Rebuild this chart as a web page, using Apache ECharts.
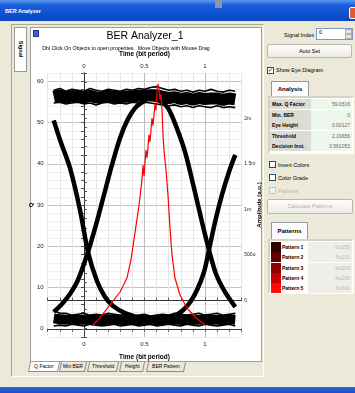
<!DOCTYPE html>
<html>
<head>
<meta charset="utf-8">
<script src="https://cdn.jsdelivr.net/npm/echarts@6.0.0/dist/echarts.min.js"></script>
<style>
html, body { margin: 0; padding: 0; }
body { width: 355px; height: 393px; overflow: hidden; background: #ece9d8; position: relative;
  font-family: "Liberation Sans Narrow", "Liberation Sans", sans-serif; font-size: 5.5px; color: #000; }
.a { position: absolute; box-sizing: border-box; }
#bar { left: 0; top: 0; width: 355px; height: 21px; background: linear-gradient(#5d98f2, #1a5fdc 25%, #0b4ecb 75%, #0a47ba); }
#bar span { position: absolute; left: 5px; top: 8px; color: #fff; font-weight: bold; font-size: 5.5px; }
#close { left: 349px; top: 7px; width: 8px; height: 12px; background: #e25b2f; border: 1px solid #fff; border-radius: 2px; }
#knob { left: 215px; top: 0; width: 7px; height: 8px; background: #8c96a8; }
#taskbar { left: 0; top: 387px; width: 355px; height: 6px; background: linear-gradient(#3168d5, #1d4fc0); }
#frame { left: 11px; top: 24px; width: 253px; height: 353px; border: 1px solid #aca899; border-right-color: #fff; border-bottom-color: #fff; }
#sig { left: 14px; top: 27px; width: 13px; height: 45px; background: #fff; border: 1px solid #919b9c; }
#sig span { position: absolute; left: -12px; top: 18px; width: 36px; text-align: center; transform: rotate(90deg); font-weight: bold; font-size: 5.5px; }
#white { left: 30px; top: 27px; width: 232px; height: 335px; background: #fff; border: 1px solid #a0a0a0; }
#icon { left: 33px; top: 30px; width: 6px; height: 7px; background: #3a63c8; border: 1px solid #1b3b8a; }
.tab { top: 362px; height: 10px; border: 1px solid #8d8d8d; border-top: none; background: #ece9d8; font-size: 5px; text-align: center; line-height: 9px; transform: skewX(-12deg); }
.tab.on { background: #fff; }
.tab span { display: inline-block; transform: skewX(12deg); }
.btn { background: linear-gradient(#fdfdfb, #ecebe6); border: 1px solid #b9b8ae; border-radius: 2px; text-align: center; font-size: 5.5px; }
.chk { width: 7px; height: 7px; background: #fff; border: 1px solid #1c5180; font-size: 6px; line-height: 5px; text-align: center; }
.lbl { font-size: 5.5px; }
.ptab { background: #fcfcfe; border: 1px solid #919b9c; border-bottom: none; font-weight: bold; font-size: 6px; text-align: center; }
.panel { border: 2px solid #d6d3c5; border-right-color: #fff; border-bottom-color: #fff; background: #fff; }
.row { position: absolute; left: 0; width: 100%; height: 10px; border-bottom: 1px solid #fff; }
.k { position: absolute; left: 0; top: 0; width: 41px; height: 10px; background: #dcdcd6; font-weight: bold; font-size: 5px; line-height: 10px; padding-left: 2px; }
.v { position: absolute; left: 41px; right: 0; top: 0; height: 10px; background: #eef7ec; color: #666; font-size: 5px; line-height: 10px; text-align: right; padding-right: 2px; }
.sw { position: absolute; left: 1px; top: 0; width: 10px; height: 10px; }
.pk { position: absolute; left: 12px; top: 0; width: 26px; height: 10px; background: #fff; font-weight: bold; font-size: 5px; line-height: 10px; }
.pv { position: absolute; left: 38px; right: 0; top: 0; height: 10px; background: #efeee8; color: #bbb; font-size: 5px; line-height: 10px; text-align: right; padding-right: 2px; }
#chart { position: absolute; left: 0; top: 0; width: 355px; height: 393px; z-index: 5; }
</style>
</head>
<body>
<div class="a" id="bar"><span>BER Analyzer</span></div>
<div class="a" id="knob"></div>
<div class="a" id="close"></div>
<div class="a" id="frame"></div>
<div class="a" id="sig"><span>Signal</span></div>
<div class="a" id="white"></div>
<div class="a" id="icon"></div>
<div class="a tab on" style="left:29px;width:30px"><span>Q Factor</span></div>
<div class="a tab" style="left:60px;width:26px"><span>Min BER</span></div>
<div class="a tab" style="left:88px;width:30px"><span>Threshold</span></div>
<div class="a tab" style="left:120px;width:24px"><span>Height</span></div>
<div class="a tab" style="left:147px;width:38px"><span>BER Pattern</span></div>

<div class="a lbl" style="left:284px;top:32px">Signal Index</div>
<div class="a" style="left:316px;top:28px;width:37px;height:12px;background:#fff;border:1px solid #7f9db9;font-size:5.5px;padding-left:2px;line-height:7px">0
  <div class="a" style="left:28px;top:0;width:7px;height:5px;background:#e8e6dc;border:1px solid #b0b0a8"></div>
  <div class="a" style="left:28px;top:5px;width:7px;height:5px;background:#e8e6dc;border:1px solid #b0b0a8"></div>
</div>
<div class="a btn" style="left:267px;top:44px;width:85px;height:14px;line-height:12px">Auto Set</div>
<div class="a chk" style="left:267px;top:67px">✓</div>
<div class="a lbl" style="left:276px;top:67px">Show Eye Diagram</div>
<div class="a ptab" style="left:271px;top:81px;width:38px;height:15px;line-height:14px">Analysis</div>
<div class="a panel" style="left:268px;top:96px;width:86px;height:58px">
  <div class="row" style="top:1px"><div class="k">Max. Q Factor</div><div class="v">59.0516</div></div>
  <div class="row" style="top:11.5px"><div class="k">Min. BER</div><div class="v">0</div></div>
  <div class="row" style="top:22px"><div class="k">Eye Height</div><div class="v">0.00127</div></div>
  <div class="row" style="top:32.5px"><div class="k">Threshold</div><div class="v">2.19656</div></div>
  <div class="row" style="top:43px"><div class="k">Decision Inst.</div><div class="v">0.561053</div></div>
</div>
<div class="a chk" style="left:269px;top:161px"></div>
<div class="a lbl" style="left:278px;top:162px">Invert Colors</div>
<div class="a chk" style="left:269px;top:174px"></div>
<div class="a lbl" style="left:278px;top:175px">Color Grade</div>
<div class="a chk" style="left:269px;top:187px;border-color:#c8c6bc;background:#f2f1ea"></div>
<div class="a lbl" style="left:278px;top:188px;color:#b8b6ac">Patterns</div>
<div class="a btn" style="left:267px;top:199px;width:86px;height:15px;line-height:13px;color:#b6b4aa">Calculate Patterns</div>
<div class="a ptab" style="left:271px;top:222px;width:37px;height:17px;line-height:16px">Patterns</div>
<div class="a panel" style="left:268px;top:239px;width:86px;height:55px">
  <div class="row" style="top:1px"><div class="sw" style="background:#2e0000"></div><div class="pk">Pattern 1</div><div class="pv">Nu253</div></div>
  <div class="row" style="top:11.3px"><div class="sw" style="background:#5c0000"></div><div class="pk">Pattern 2</div><div class="pv">Nu211</div></div>
  <div class="row" style="top:21.6px"><div class="sw" style="background:#8e0000"></div><div class="pk">Pattern 3</div><div class="pv">Nu203</div></div>
  <div class="row" style="top:31.9px"><div class="sw" style="background:#c40000"></div><div class="pk">Pattern 4</div><div class="pv">Nu200</div></div>
  <div class="row" style="top:42.2px"><div class="sw" style="background:#ff0a0a"></div><div class="pk">Pattern 5</div><div class="pv">Nu000</div></div>
</div>
<div class="a" id="taskbar"></div>
<div id="chart"></div>

<script>
// time axis (bit period)
var timeTicks = [0, 0.5, 1];
var timeTickText = ['0', '0.5', '1'];
// left axis: Q factor
var qTicks = [0, 10, 20, 30, 40, 50, 60];
// right axis: amplitude
var ampTicks = [0, 0.5, 1, 1.5, 2];
var ampTickText = ['0', '500u', '1m', '1.5m', '2m'];

// eye diagram rails (amplitude), upper and lower edge of each band
var bandX = [-0.25, -0.2, -0.15, -0.1, -0.05, 0, 0.05, 0.1, 0.15, 0.2, 0.25, 0.3, 0.35, 0.4, 0.45, 0.5,
  0.55, 0.6, 0.65, 0.7, 0.75, 0.8, 0.85, 0.9, 0.95, 1.0, 1.05, 1.1, 1.15, 1.2, 1.25];
var topUpper = [2.31, 2.33, 2.30, 2.32, 2.31, 2.30, 2.33, 2.31, 2.30, 2.32, 2.31, 2.30, 2.32, 2.31, 2.33, 2.32,
  2.34, 2.35, 2.33, 2.31, 2.32, 2.30, 2.31, 2.29, 2.31, 2.30, 2.32, 2.30, 2.29, 2.31, 2.30];
var topLower = [2.17, 2.18, 2.16, 2.17, 2.18, 2.16, 2.17, 2.15, 2.17, 2.18, 2.16, 2.17, 2.16, 2.18, 2.17, 2.18,
  2.17, 2.16, 2.15, 2.14, 2.15, 2.13, 2.14, 2.12, 2.14, 2.13, 2.12, 2.14, 2.12, 2.13, 2.12];
var botUpper = [-0.11, -0.14, -0.14, -0.16, -0.15, -0.14, -0.16, -0.15, -0.16, -0.14, -0.15, -0.16, -0.15, -0.17, -0.16, -0.15,
  -0.17, -0.16, -0.15, -0.16, -0.14, -0.15, -0.16, -0.15, -0.14, -0.16, -0.15, -0.14, -0.16, -0.15, -0.14];
var botLower = [-0.28, -0.27, -0.28, -0.26, -0.27, -0.28, -0.26, -0.27, -0.28, -0.27, -0.26, -0.28, -0.27, -0.26, -0.28, -0.27,
  -0.26, -0.28, -0.27, -0.26, -0.27, -0.28, -0.26, -0.27, -0.28, -0.26, -0.27, -0.28, -0.27, -0.26, -0.28];

// transitions [time, amplitude]
var fallLeft = [[-0.25, 1.98], [-0.198, 1.765], [-0.116, 1.457], [-0.033, 0.996], [0.033, 0.534], [0.107, 0.215],
  [0.174, 0.04], [0.24, -0.059], [0.339, -0.136], [0.463, -0.19]];
var riseLeft = [[-0.25, -0.125], [-0.182, -0.037], [-0.116, 0.073], [-0.05, 0.226], [0.033, 0.534], [0.099, 0.831],
  [0.165, 1.16], [0.231, 1.49], [0.298, 1.787], [0.364, 1.996], [0.43, 2.127], [0.512, 2.204]];
var fallRight = [[0.545, 2.215], [0.628, 2.193], [0.694, 2.116], [0.76, 1.919], [0.835, 1.633], [0.909, 1.237],
  [0.975, 0.864], [1.033, 0.556], [1.091, 0.292], [1.165, 0.095], [1.25, -0.07]];
var riseRight = [[0.545, -0.213], [0.669, -0.191], [0.777, -0.147], [0.86, -0.048], [0.934, 0.117], [0.992, 0.315],
  [1.033, 0.556], [1.083, 0.864], [1.14, 1.161], [1.198, 1.413], [1.25, 1.6]];

// Q factor vs decision time
var qTime = [0.066, 0.132, 0.215, 0.298, 0.355, 0.388, 0.421, 0.455, 0.479, 0.488, 0.496, 0.512, 0.521, 0.537, 0.545,
  0.562, 0.570, 0.587, 0.595, 0.603, 0.612, 0.620, 0.628, 0.636, 0.645, 0.653, 0.661, 0.678, 0.694, 0.711, 0.727,
  0.752, 0.793, 0.851, 0.917, 1.0];
var qValue = [0.67, 2.61, 5.76, 8.91, 12.3, 16.7, 23.2, 30.0, 36.1, 39.7, 37.0, 43.3, 41.4, 47.0, 45.3,
  51.1, 49.2, 54.5, 53.0, 57.4, 59.3, 58.4, 55.5, 56.9, 53.0, 47.0, 43.3, 38.5, 32.4, 24.4, 17.9,
  12.3, 8.18, 5.03, 2.85, 0.91];

var FONT = '"Liberation Sans Narrow", "Liberation Sans", sans-serif';

function pick(ticks, texts) {
  return function (v) {
    for (var i = 0; i < ticks.length; i++) if (Math.abs(ticks[i] - v) < 1e-6) return texts[i];
    return '';
  };
}
function pairs(xs, ys) { return xs.map(function (x, i) { return [x, ys[i]]; }); }
function mid(a, b) { return a.map(function (v, i) { return (v + b[i]) / 2; }); }

var chart = echarts.init(document.getElementById('chart'), null, {renderer: 'canvas'});

var timeAxis = function (pos, gap) {
  return {
    type: 'value', position: pos, min: -0.3, max: 1.3, interval: 0.1,
    name: 'Time (bit period)', nameLocation: 'middle', nameGap: gap, nameMoveOverlap: false,
    nameTextStyle: {fontFamily: FONT, fontWeight: 'bold', fontSize: 6.5, color: '#000'},
    axisLine: {lineStyle: {color: '#333', width: 1}},
    axisTick: {length: 3, lineStyle: {color: '#555'}},
    axisLabel: {formatter: pick(timeTicks, timeTickText), fontFamily: FONT, fontSize: 6, color: '#222', margin: 4},
    splitLine: {show: pos === 'bottom', lineStyle: {color: ['#e6e6e6', '#e6e6e6', '#e6e6e6', '#bdbdbd', '#e6e6e6'], width: 1}}
  };
};

function blk(data, w) {
  return {type: 'line', yAxisIndex: 1, symbol: 'none', data: data, lineStyle: {width: w, color: '#000', cap: 'butt'}};
}

var series = [
  blk(pairs(bandX, mid(topUpper, topLower)), 12),
  blk(pairs(bandX, topUpper), 1.6),
  blk(pairs(bandX, topLower), 1.6),
  blk(pairs(bandX, mid(botUpper, botLower)), 10),
  blk(pairs(bandX, botUpper), 1.6),
  blk(pairs(bandX, botLower), 1.6)
];
[fallLeft, riseLeft, fallRight, riseRight].forEach(function (d) {
  var s = blk(d, 4.5);
  s.smooth = 0.3;
  series.push(s);
});
series.push({type: 'line', yAxisIndex: 0, symbol: 'none', data: pairs(qTime, qValue), lineStyle: {width: 1.2, color: '#ff0000'}});

chart.setOption({
  animation: false,
  backgroundColor: 'transparent',
  grid: {left: 47.7, top: 73, width: 193.6, height: 264},
  graphic: [
    {type: 'text', x: 145, y: 36, style: {text: 'BER Analyzer_1', font: '10.5px ' + FONT, fill: '#000', align: 'center', verticalAlign: 'middle'}},
    {type: 'text', x: 126, y: 49, style: {text: 'Dbl Click On Objects to open properties.  Move Objects with Mouse Drag', font: '5.2px ' + FONT, fill: '#000', align: 'center', verticalAlign: 'middle'}}
  ],
  xAxis: [timeAxis('bottom', 17), timeAxis('top', 15)],
  yAxis: [
    {type: 'value', position: 'left', min: -2, max: 62, interval: 2,
      name: 'Q', nameLocation: 'middle', nameGap: 13, nameRotate: 90, nameMoveOverlap: false,
      nameTextStyle: {fontFamily: FONT, fontWeight: 'bold', fontSize: 6, color: '#000'},
      axisLine: {show: true, lineStyle: {color: '#333'}},
      axisTick: {show: true, length: 3, lineStyle: {color: '#555'}},
      axisLabel: {formatter: pick(qTicks, qTicks.map(String)), fontFamily: FONT, fontSize: 6, color: '#222', margin: 4},
      splitLine: {show: true, lineStyle: {color: ['#efefef', '#c4c4c4', '#efefef', '#efefef', '#efefef']}}},
    {type: 'value', position: 'right', min: -0.4, max: 2.5, interval: 0.1,
      name: 'Amplitude (a.u.)', nameLocation: 'middle', nameGap: 15, nameRotate: 90, nameMoveOverlap: false,
      nameTextStyle: {fontFamily: FONT, fontWeight: 'bold', fontSize: 6, color: '#000'},
      axisLine: {show: true, lineStyle: {color: '#333'}},
      axisTick: {show: true, length: 3, lineStyle: {color: '#555'}},
      axisLabel: {formatter: pick(ampTicks, ampTickText), fontFamily: FONT, fontSize: 5, color: '#222', margin: 3},
      splitLine: {show: false}}
  ],
  series: series
});
</script>
</body>
</html>
